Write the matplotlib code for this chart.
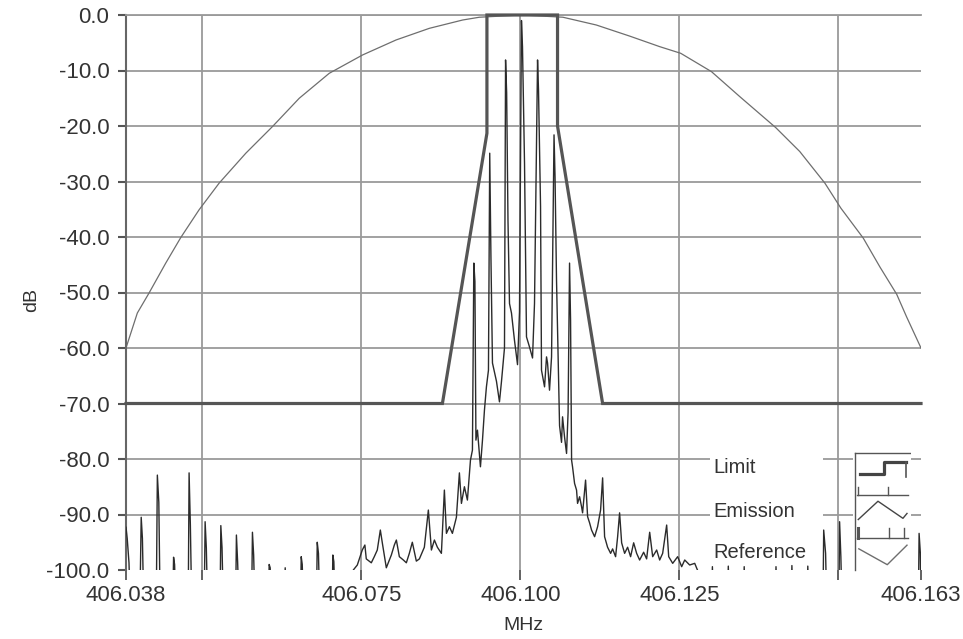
import matplotlib

matplotlib.use("Agg")
import matplotlib.pyplot as plt
import numpy as np
from matplotlib.patches import Rectangle
from matplotlib.ticker import FormatStrFormatter

plt.rcParams["font.family"] = ["Liberation Sans", "DejaVu Sans"]

# axis setup
x_ticks = [406.038, 406.050, 406.075, 406.100, 406.125, 406.150, 406.163]
x_tick_labels = ["406.038", "", "406.075", "406.100", "406.125", "", "406.163"]
y_ticks = [0, -10, -20, -30, -40, -50, -60, -70, -80, -90, -100]

# spectral mask (MHz, dB)
limit_mhz = [406.0380, 406.08775, 406.09475, 406.09475, 406.10585, 406.10585, 406.11294, 406.1630]
limit_db = [-70.0, -70.0, -21.3, 0.0, 0.0, -20.0, -70.0, -70.0]

# reference arc (MHz, dB)
reference_mhz = [
    406.03800, 406.03978, 406.04162, 406.04425, 406.04661, 406.04949, 406.05264,
    406.05684, 406.06103, 406.06524, 406.06996, 406.07520, 406.08046, 406.08570,
    406.09094, 406.09357, 406.10020, 406.10669, 406.11194, 406.11719, 406.12191,
    406.12522, 406.13005, 406.13450, 406.14017, 406.14394, 406.14789, 406.15040,
    406.15392, 406.15654, 406.15917, 406.16074, 406.16300,
]
reference_db = [
    -60.0, -53.7, -50.1, -44.7, -40.1, -35.1, -30.3,
    -24.9, -20.1, -15.0, -10.5, -7.2, -4.5, -2.4,
    -0.9, -0.4, 0.0, -0.4, -1.8, -3.8, -5.7,
    -6.9, -10.2, -14.7, -20.3, -24.6, -30.3, -34.8,
    -40.2, -45.4, -50.3, -54.4, -60.0,
]

# measured emission trace (MHz, dB); values under -100 fall off the plot
emission_trace = [
    (406.03800, -92.3), (406.03819, -94.3), (406.03847, -98.7), (406.03863, -105.0),
    (406.04020, -105.0), (406.04039, -90.5), (406.04058, -94.3), (406.04076, -105.0),
    (406.04277, -105.0), (406.04293, -82.9), (406.04316, -87.8), (406.04335, -105.0),
    (406.04537, -105.0), (406.04548, -97.7), (406.04564, -99.0), (406.04579, -105.0),
    (406.04779, -105.0), (406.04792, -82.5), (406.04812, -91.9), (406.04831, -105.0),
    (406.05031, -105.0), (406.05044, -91.3), (406.05063, -96.0), (406.05080, -105.0),
    (406.05280, -105.0), (406.05291, -92.0), (406.05310, -96.0), (406.05327, -105.0),
    (406.05525, -105.0), (406.05536, -93.7), (406.05555, -98.5), (406.05573, -105.0),
    (406.05776, -105.0), (406.05788, -93.2), (406.05807, -97.3), (406.05824, -105.0),
    (406.06042, -105.0), (406.06051, -99.0), (406.06067, -99.6), (406.06083, -105.0),
    (406.06294, -105.0), (406.06303, -99.6), (406.06319, -105.0),
    (406.06546, -105.0), (406.06555, -97.6), (406.06571, -99.0), (406.06587, -105.0),
    (406.06796, -105.0), (406.06807, -95.0), (406.06826, -97.0), (406.06843, -105.0),
    (406.07043, -105.0), (406.07052, -97.3), (406.07068, -98.5), (406.07084, -105.0),
    # lower skirt, left side
    (406.07342, -105.0), (406.07374, -100.0), (406.07437, -99.1), (406.07515, -96.4),
    (406.07556, -95.5), (406.07578, -98.0), (406.07657, -98.7), (406.07704, -97.6),
    (406.07751, -96.4), (406.07799, -92.8), (406.07830, -95.1), (406.07893, -99.6),
    (406.07972, -97.3), (406.08019, -95.5), (406.08051, -94.6), (406.08098, -97.6),
    (406.08161, -98.2), (406.08208, -98.7), (406.08255, -97.0), (406.08302, -95.0),
    (406.08365, -98.4), (406.08413, -98.0), (406.08491, -95.9), (406.08554, -89.2),
    (406.08602, -96.4), (406.08649, -94.6), (406.08696, -95.9), (406.08759, -97.0),
    (406.08806, -85.6), (406.08838, -93.4), (406.08885, -92.2), (406.08932, -93.4),
    (406.08995, -90.5), (406.09042, -82.5), (406.09074, -88.0), (406.09121, -85.0),
    (406.09168, -87.4), (406.09216, -80.2), (406.09247, -78.4),
    # main lobe
    (406.09269, -44.7), (406.09286, -48.0), (406.09302, -76.6), (406.09326, -74.8),
    (406.09373, -81.4), (406.09405, -76.6), (406.09436, -71.2), (406.09467, -67.0),
    (406.09499, -64.0), (406.09519, -24.9), (406.09538, -43.6), (406.09562, -62.7),
    (406.09625, -66.0), (406.09672, -69.7), (406.09704, -66.0), (406.09751, -60.0),
    (406.09768, -8.1), (406.09785, -14.0), (406.09806, -37.0), (406.09830, -52.0),
    (406.09861, -53.7), (406.09908, -58.6), (406.09956, -63.0), (406.09987, -53.5),
    (406.10018, -1.0), (406.10034, -5.7), (406.10066, -26.7), (406.10097, -58.0),
    (406.10144, -59.8), (406.10192, -61.8), (406.10223, -52.0), (406.10271, -8.1),
    (406.10286, -13.5), (406.10318, -34.5), (406.10333, -64.0), (406.10381, -67.0),
    (406.10412, -61.6), (406.10428, -62.7), (406.10459, -67.6), (406.10491, -61.6),
    (406.10530, -21.6), (406.10546, -29.2), (406.10569, -47.7), (406.10617, -74.0),
    (406.10648, -77.0), (406.10664, -72.4), (406.10695, -76.0), (406.10727, -79.0),
    (406.10751, -71.6), (406.10774, -44.7), (406.10790, -55.0), (406.10806, -80.2),
    # lower skirt, right side
    (406.10821, -81.4), (406.10853, -84.4), (406.10884, -85.6), (406.10900, -88.0),
    (406.10932, -86.8), (406.10963, -88.6), (406.10979, -89.7), (406.11026, -83.8),
    (406.11058, -90.4), (406.11089, -91.5), (406.11120, -92.8), (406.11168, -94.0),
    (406.11215, -92.2), (406.11262, -89.2), (406.11294, -83.4), (406.11325, -94.0),
    (406.11372, -95.9), (406.11420, -97.0), (406.11451, -96.2), (406.11498, -97.6),
    (406.11530, -94.0), (406.11561, -89.7), (406.11593, -95.1), (406.11640, -97.0),
    (406.11687, -95.9), (406.11734, -97.6), (406.11782, -95.1), (406.11829, -97.0),
    (406.11876, -98.2), (406.11939, -96.8), (406.11986, -98.0), (406.12034, -93.2),
    (406.12081, -97.6), (406.12144, -96.4), (406.12191, -98.2), (406.12238, -97.0),
    (406.12301, -91.9), (406.12333, -97.6), (406.12396, -98.8), (406.12474, -97.6),
    (406.12537, -99.4), (406.12585, -98.2), (406.12663, -99.1), (406.12742, -98.8),
    (406.12821, -101.0), (406.12868, -105.0),
    (406.13010, -105.0), (406.13020, -99.4), (406.13035, -105.0),
    (406.13260, -105.0), (406.13270, -99.3), (406.13285, -105.0),
    (406.13510, -105.0), (406.13520, -99.4), (406.13535, -105.0),
    (406.14010, -105.0), (406.14020, -99.4), (406.14035, -105.0),
    (406.14260, -105.0), (406.14270, -99.2), (406.14285, -105.0),
    (406.14510, -105.0), (406.14520, -99.3), (406.14535, -105.0),
    (406.14760, -105.0), (406.14770, -92.8), (406.14800, -97.0), (406.14815, -105.0),
    (406.15010, -105.0), (406.15020, -91.3), (406.15040, -97.6), (406.15055, -105.0),
    (406.16260, -105.0), (406.16270, -93.4), (406.16290, -97.0), (406.16300, -105.0),
]

# small sample glyphs for the legend column (unit box coordinates)
icon_limit = ([0.12, 0.53, 0.53, 0.91], [0.80, 0.80, 0.90, 0.90])
icon_limit_drop = ([0.91, 0.91], [0.90, 0.78])
icon_emission = ([0.09, 0.43, 0.86, 0.93], [0.43, 0.58, 0.44, 0.48])
icon_reference = ([0.10, 0.59, 0.93], [0.19, 0.06, 0.22])

legend_labels = ["Limit", "Emission", "Reference"]

GRID = "#9a9a9a"
INK = "#333333"

fig = plt.figure(figsize=(9.63, 6.39), dpi=100)
fig.patch.set_facecolor("white")
ax = fig.add_axes([126 / 963, 69 / 639, 795 / 963, 555 / 639])

ax.plot(reference_mhz, reference_db, color="#6e6e6e", lw=0.9, zorder=2)
em = np.array(emission_trace)
ax.plot(em[:, 0], em[:, 1], color="#2b2b2b", lw=1.0, zorder=3)
ax.plot(limit_mhz, limit_db, color="#555555", lw=2.3, zorder=4, clip_on=False,
        solid_joinstyle="miter")

ax.set_xlim(406.038, 406.163)
ax.set_ylim(-100, 0)
ax.set_xticks(x_ticks)
ax.set_xticklabels(x_tick_labels)
ax.set_yticks(y_ticks)
ax.yaxis.set_major_formatter(FormatStrFormatter("%.1f"))

ax.grid(True, color=GRID, lw=1.3)
# no gridlines on the plot edges
for i, gl in enumerate(ax.get_xgridlines()):
    if i in (0, len(x_ticks) - 1):
        gl.set_visible(False)
for i, gl in enumerate(ax.get_ygridlines()):
    if y_ticks[i] == -100:
        gl.set_visible(False)

ax.tick_params(axis="y", length=6, width=1.5, pad=6, color="#555555",
               labelsize=16, labelcolor=INK)
ax.tick_params(axis="x", length=7, width=1.3, pad=4, color="#555555",
               labelsize=16, labelcolor=INK)
for side in ("right", "bottom"):
    ax.spines[side].set_visible(False)
ax.spines["left"].set_color("#666666")
ax.spines["left"].set_linewidth(1.5)
ax.spines["top"].set_color(GRID)
ax.spines["top"].set_linewidth(1.3)

ax.set_xlabel("MHz", fontsize=14, color=INK)
ax.set_ylabel("dB", fontsize=14, color=INK)
ax.xaxis.set_label_coords(0.5, -0.085)
ax.yaxis.set_label_coords(-0.108, 0.487)

# legend: names on a plain strip, sample glyphs in a column to the right
ax.add_patch(Rectangle((0.7346, 0.085), 0.142, 0.13, transform=ax.transAxes,
                       facecolor="white", edgecolor="none", zorder=2.5))
for label, ypos in zip(legend_labels, [0.184, 0.106, 0.031]):
    ax.text(0.739, ypos, label, transform=ax.transAxes, fontsize=14.5,
            color=INK, va="center", ha="left", zorder=5)

leg = ax.inset_axes([0.9145, -0.0036, 0.073, 0.2198])
leg.set_xlim(0, 1)
leg.set_ylim(0, 1)
leg.set_xticks([])
leg.set_yticks([])
for s in leg.spines.values():
    s.set_visible(False)
leg.set_facecolor("white")
box = dict(color="#555555", lw=1.0)
leg.plot([0.034, 0.983], [0.975, 0.975], **box)
leg.plot([0.034, 0.034], [0.975, 0.016], **box)
leg.plot([0.07, 0.95], [0.631, 0.631], **box)
leg.plot([0.07, 0.95], [0.279, 0.279], **box)
for xt in (0.086, 0.603):
    leg.plot([xt, xt], [0.631, 0.697], **box)
for xt, w in ((0.086, 2.2), (0.621, 1.0), (0.879, 1.0)):
    leg.plot([xt, xt], [0.279, 0.361], color="#555555", lw=w)
leg.plot(*icon_limit, color="#444444", lw=2.3)
leg.plot(*icon_limit_drop, color="#555555", lw=1.2)
leg.plot(*icon_emission, color="#444444", lw=1.0)
leg.plot(*icon_reference, color="#6e6e6e", lw=1.0)

fig.savefig("out.png", dpi=100, facecolor="white")
plt.close(fig)
